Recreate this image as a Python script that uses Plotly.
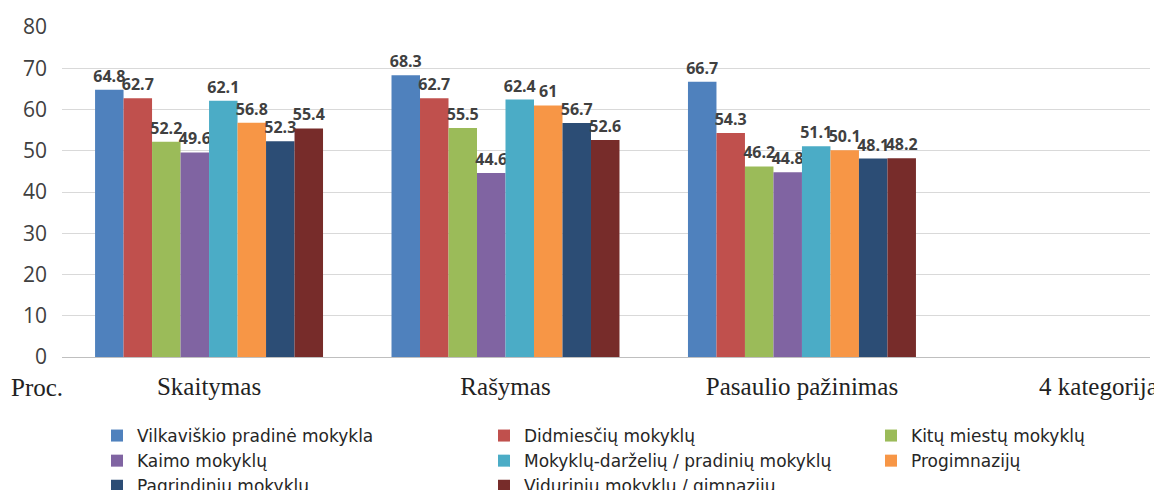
import plotly.graph_objects as go

categories = ["Skaitymas", "Rašymas", "Pasaulio pažinimas", "4 kategorija"]

series_names = [
    "Vilkaviškio pradinė mokykla",
    "Didmiesčių mokyklų",
    "Kitų miestų mokyklų",
    "Kaimo mokyklų",
    "Mokyklų-darželių / pradinių mokyklų",
    "Progimnazijų",
    "Pagrindinių mokyklų",
    "Vidurinių mokyklų / gimnazijų",
]

vilkaviskio = [64.8, 68.3, 66.7, None]
didmiesciu = [62.7, 62.7, 54.3, None]
kitu_miestu = [52.2, 55.5, 46.2, None]
kaimo = [49.6, 44.6, 44.8, None]
darzeliu = [62.1, 62.4, 51.1, None]
progimnaziju = [56.8, 61, 50.1, None]
pagrindiniu = [52.3, 56.7, 48.1, None]
viduriniu = [55.4, 52.6, 48.2, None]

series_values = [vilkaviskio, didmiesciu, kitu_miestu, kaimo,
                 darzeliu, progimnaziju, pagrindiniu, viduriniu]

colors = ["#4F81BD", "#C0504D", "#9BBB59", "#8064A2",
          "#4BACC6", "#F79646", "#2C4D75", "#772C2A"]

y_ticks = [0, 10, 20, 30, 40, 50, 60, 70, 80]

W, H = 1162, 490
OFF = 8  # page body margin

fig = go.Figure()
for name, vals, col in zip(series_names, series_values, colors):
    fig.add_trace(go.Bar(
        name=name, x=categories, y=vals,
        marker=dict(color=col, line=dict(width=0)),
        text=[("" if v is None else f"{v:g}") for v in vals],
        textposition="outside",
        textangle=0,
        constraintext="none",
        cliponaxis=False,
        textfont=dict(family="Open Sans", size=16, color="#404040", weight="bold"),
    ))

fig.update_layout(
    width=W, height=H,
    barmode="group",
    bargap=0.231,
    bargroupgap=0,
    paper_bgcolor="white",
    plot_bgcolor="white",
    margin=dict(l=0, r=0, t=0, b=0, autoexpand=False),
    xaxis=dict(
        type="category",
        categoryorder="array",
        categoryarray=categories,
        domain=[(62 - OFF) / W, (1150 - OFF) / W],
        range=[-0.496, 3.174],
        showgrid=False,
        showline=True,
        linecolor="#BFBFBF",
        linewidth=1,
        ticks="",
        ticklabelstandoff=7,
        tickfont=dict(family="Liberation Serif", size=25, color="#222222"),
        fixedrange=True,
    ),
    yaxis=dict(
        domain=[1 - (357 - OFF) / H, 1 - (27 - OFF) / H],
        range=[0, 80],
        tickvals=y_ticks,
        showgrid=True,
        gridcolor="#D9D9D9",
        gridwidth=1,
        zeroline=False,
        showline=False,
        ticks="",
        ticklabelstandoff=14,
        tickfont=dict(family="Open Sans", size=21, color="#404040"),
        fixedrange=True,
    ),
    legend=dict(
        orientation="h",
        x=(97 - OFF) / W, xanchor="left",
        y=1 - (422 - OFF - 4) / H, yanchor="top",
        entrywidth=342,
        entrywidthmode="pixels",
        traceorder="normal",
        font=dict(family="DejaVu Sans", size=17, color="#262626"),
        bgcolor="rgba(0,0,0,0)",
        borderwidth=0,
    ),
    showlegend=True,
)

fig.add_annotation(
    text="Proc.", xref="paper", yref="paper",
    x=(37 - OFF) / W, y=1 - (387 - OFF) / H, xanchor="center", yanchor="middle",
    showarrow=False,
    font=dict(family="Liberation Serif", size=25, color="#222222"),
)

fig.write_html("out.html")
